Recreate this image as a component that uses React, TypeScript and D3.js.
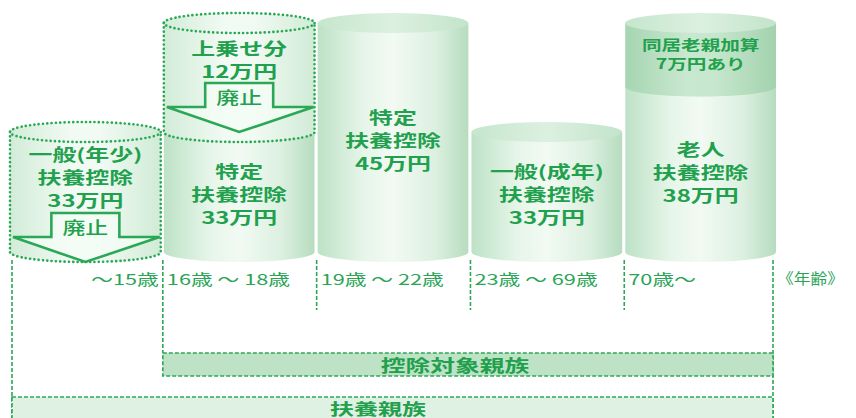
import { useEffect, useRef } from 'react'
import * as d3 from 'd3'

// age groups along the bottom
const ageGroups = ['〜15歳', '16歳 〜 18歳', '19歳 〜 22歳', '23歳 〜 69歳', '70歳〜']
// deduction amounts (万円)
const baseAmounts = [33, 33, 45, 33, 38]
const extraAmounts = [0, 12, 0, 0, 7]
const baseAbolished = [true, false, false, false, false]
const extraAbolished = [false, true, false, false, false]
const baseLabels = [
  ['一般(年少)', '扶養控除', '33万円'],
  ['特定', '扶養控除', '33万円'],
  ['特定', '扶養控除', '45万円'],
  ['一般(成年)', '扶養控除', '33万円'],
  ['老人', '扶養控除', '38万円'],
]
const extraLabels = [[], ['上乗せ分', '12万円'], [], [], ['同居老親加算', '7万円あり']]
const unitLabel = '《年齢》'
const groupLabels = ['控除対象親族', '扶養親族']

const W = 856
const H = 418
const GREEN = '#21a04d'
const LINE = '#2aa855'
const FONT = '"Noto Sans CJK JP", "Noto Sans", sans-serif'

export default function App() {
  const svgRef = useRef<SVGSVGElement>(null)

  useEffect(() => {
    if (!svgRef.current) return
    const svg = d3.select(svgRef.current)
    svg.selectAll('*').remove()

    const defs = svg.append('defs')
    const grad = (id: string, stops: [number, string][]) => {
      const g = defs.append('linearGradient').attr('id', id)
        .attr('x1', 0).attr('x2', 1).attr('y1', 0).attr('y2', 0)
      stops.forEach(([o, c]) => g.append('stop').attr('offset', o).attr('stop-color', c))
    }
    grad('body', [[0, '#bde2c6'], [0.3, '#e6f5e9'], [0.5, '#f2faf3'], [0.78, '#dcf0e0'], [1, '#b6dcbf']])
    grad('top', [[0, '#c6e6cd'], [0.5, '#dcf0e0'], [1, '#c3e4ca']])
    grad('band', [[0, '#a6d5b1'], [0.4, '#c8e8cf'], [0.6, '#c6e7cd'], [1, '#a3d2ae']])
    grad('ghost', [[0, '#d2ecd8'], [0.4, '#f1faf3'], [0.6, '#f1faf3'], [1, '#d0ebd6']])

    const baseline = 252
    const ry = 10
    const x = d3.scaleBand<string>().domain(ageGroups).range([10, 776]).paddingInner(0.02)
    const y = d3.scaleLinear().domain([33, 45]).range([132, 23])

    const txt = (parent: any, cx: number, cy: number, s: string, size: number, sx: number, weight = 'bold', anchor = 'middle', color = GREEN) => {
      parent.append('g')
        .attr('transform', `translate(${cx},${cy}) scale(${sx},1)`)
        .append('text')
        .attr('text-anchor', anchor)
        .attr('dominant-baseline', 'central')
        .style('font-family', FONT)
        .style('font-size', `${size}px`)
        .style('font-weight', weight)
        .attr('fill', color)
        .text(s)
    }

    const cylinder = (x0: number, x1: number, yt: number, yb: number, fill: string, topFill: string | null, dotted: boolean) => {
      const rx = (x1 - x0) / 2
      const cx = x0 + rx
      const g = svg.append('g')
      const p = `M${x0},${yt} L${x0},${yb} A${rx},${ry} 0 0 0 ${x1},${yb} L${x1},${yt} Z`
      g.append('path').attr('d', p).attr('fill', `url(#${fill})`)
      if (topFill) {
        g.append('ellipse').attr('cx', cx).attr('cy', yt).attr('rx', rx).attr('ry', ry)
          .attr('fill', `url(#${topFill})`)
      }
      if (dotted) {
        const st = (sel: any) => sel.attr('fill', 'none').attr('stroke', LINE)
          .attr('stroke-width', 2.6).attr('stroke-dasharray', '0.1,4.2').attr('stroke-linecap', 'round')
        st(g.append('path').attr('d', `M${x0},${yt} L${x0},${yb} A${rx},${ry} 0 0 0 ${x1},${yb} L${x1},${yt}`))
        st(g.append('ellipse').attr('cx', cx).attr('cy', yt).attr('rx', rx).attr('ry', ry))
      }
      return g
    }

    const arrow = (x0: number, x1: number, tip: number) => {
      const cx = (x0 + x1) / 2
      const headTop = tip - 25
      const shaftTop = tip - 49
      const hw = 34
      const pts = [
        [cx - hw, shaftTop], [cx + hw, shaftTop], [cx + hw, headTop], [x1 - 1, headTop],
        [cx, tip], [x0 + 3, headTop], [cx - hw, headTop],
      ]
      svg.append('path')
        .attr('d', d3.line()(pts as [number, number][]) + 'Z')
        .attr('fill', '#f3fbf5').attr('fill-opacity', 0.85)
        .attr('stroke', LINE).attr('stroke-width', 2.6).attr('stroke-linejoin', 'miter')
      txt(svg, cx, shaftTop + 14, '廃止', 17, 1.35, '500')
    }

    ageGroups.forEach((a, i) => {
      const x0 = x(a)!
      const x1 = x0 + x.bandwidth()
      const cx = (x0 + x1) / 2
      const yBase = y(baseAmounts[i])
      cylinder(x0, x1, yBase, baseline, baseAbolished[i] ? 'ghost' : 'body', baseAbolished[i] ? 'ghost' : 'top', baseAbolished[i])
      if (extraAmounts[i] > 0) {
        const yExtra = y(baseAmounts[i] + extraAmounts[i])
        if (extraAbolished[i]) {
          cylinder(x0, x1, yExtra, yBase, 'ghost', 'ghost', true)
        } else {
          cylinder(x0, x1, yExtra, yBase, 'band', 'top', false)
        }
      }

      // labels
      const lines = baseLabels[i]
      let mid = (yBase + baseline) / 2 + 2
      if (baseAbolished[i]) {
        arrow(x0, x1, baseline + ry)
        mid = (yBase + 10 + baseline + ry - 50) / 2
      }
      lines.forEach((s, k) => txt(svg, cx, mid + (k - 1) * 23, s, 16.5, 1.45, '600'))

      if (extraAmounts[i] > 0) {
        const yExtra = y(baseAmounts[i] + extraAmounts[i])
        const el = extraLabels[i]
        if (extraAbolished[i]) {
          arrow(x0, x1, yBase)
          const m = (yExtra + 10 + yBase - 50) / 2 + 2
          el.forEach((s, k) => txt(svg, cx, m + (k - 0.5) * 23, s, 16.5, 1.45, '600'))
        } else {
          const m = (yExtra + yBase) / 2 - 1
          el.forEach((s, k) => txt(svg, cx, m + (k - 0.5) * 19, s, 14, 1.4, 'bold'))
        }
      }
    })

    // dashed guides
    const dash = (sel: any) => sel.attr('stroke', LINE).attr('stroke-width', 1.6).attr('stroke-dasharray', '4,2').attr('fill', 'none')
    const edges = ageGroups.map(a => x(a)!)
    const xs = [12, ...edges.slice(1).map(e => e - 1), 773]
    xs.forEach((xx, k) => {
      const y2 = k === 0 || k === xs.length - 1 ? H : k === 1 ? 353 : 310
      dash(svg.append('line').attr('x1', xx).attr('x2', xx).attr('y1', baseline + 8).attr('y2', y2))
    })

    // age labels
    ageGroups.forEach((a, i) => {
      if (i === 0) txt(svg, xs[1] - 4, 278, a, 15, 1.45, 'normal', 'end', '#2aa556')
      else txt(svg, xs[i] + 4, 278, a, 15, 1.45, 'normal', 'start', '#2aa556')
    })
    txt(svg, 777, 278, unitLabel, 15, 1.12, 'normal', 'start', '#2aa556')

    // group boxes
    dash(svg.append('rect').attr('x', xs[1]).attr('y', 353).attr('width', 773 - xs[1]).attr('height', 23))
      .attr('fill', '#bde2c6')
    txt(svg, 455, 365, groupLabels[0], 16.5, 1.5)
    dash(svg.append('rect').attr('x', 12).attr('y', 397).attr('width', 761).attr('height', 30))
      .attr('fill', '#dff1e3')
    txt(svg, 378, 407.5, groupLabels[1], 16, 1.5)
  }, [])

  return (
    <svg ref={svgRef} width={W} height={H}
      style={{ position: 'absolute', left: 0, top: 0, background: '#fff' }} />
  )
}
